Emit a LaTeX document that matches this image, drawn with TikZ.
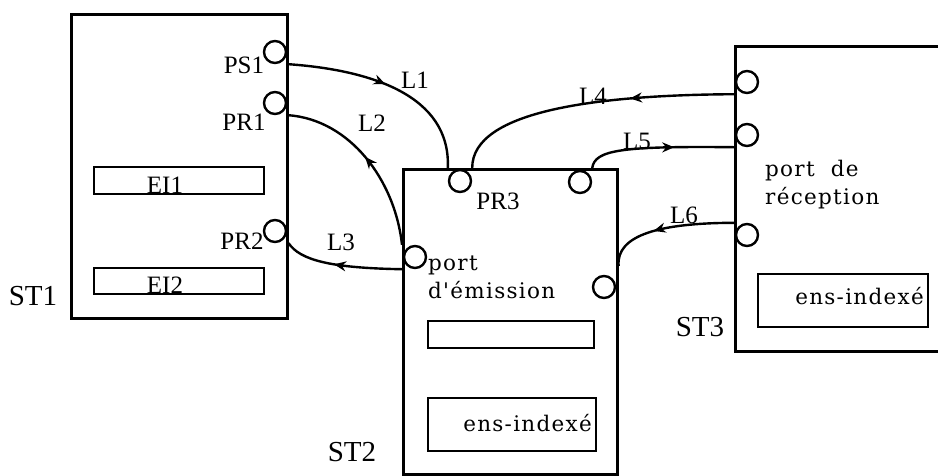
\documentclass[tikz,border=0pt]{standalone}
\usepackage{fontspec}
\setmainfont{Liberation Serif}
\newfontfamily\portfont[LetterSpace=6]{DejaVu Serif}
\usetikzlibrary{arrows.meta, decorations.markings, positioning, calc}

\begin{document}
\begin{tikzpicture}[
x=1pt, y=-1pt,
station/.style={rectangle, draw, line width=2.6pt, anchor=north west, inner sep=0pt},
ens/.style={rectangle, draw, line width=2.4pt, anchor=north west, inner sep=0pt},
port/.style={circle, draw, line width=2.4pt, minimum size=22pt, inner sep=0pt},
lab/.style={font=\fontsize{25}{25}\selectfont, inner sep=0pt},
stlab/.style={font=\fontsize{29}{29}\selectfont, inner sep=0pt},
txt/.style={font=\portfont\fontsize{21.5}{28}\selectfont, align=left, inner sep=0pt},
link/.style={line width=2.4pt, postaction={decorate}, decoration={markings, mark=at position #1 with {\arrow{Stealth[length=12pt,width=10pt]}}}}
]
\useasboundingbox (0,0) rectangle (938,475);
\node[station, minimum width=216pt, minimum height=304pt] (st1) at (70,13) {};
\node[station, minimum width=214pt, minimum height=305pt] (st2) at (402,168) {};
\node[station, minimum width=206pt, minimum height=305pt] (st3) at (734,45) {};
\node[stlab] (st1lab) at (33,296) {ST1};
\node[stlab] (st2lab) at (352,452) {ST2};
\node[stlab] (st3lab) at (700,327) {ST3};
\node[ens, minimum width=170pt, minimum height=27pt] (ei1) at (93,166) {};
\node[ens, minimum width=170pt, minimum height=26pt] (ei2) at (93,267) {};
\node[lab, anchor=south] (ei1lab) at (165,194) {EI1};
\node[lab, anchor=south] (ei2lab) at (165,294) {EI2};
\node[ens, minimum width=166pt, minimum height=27pt] (buf2) at (427,320) {};
\node[ens, minimum width=168pt, minimum height=53pt] (ens2) at (427,397) {};
\node[ens, minimum width=170pt, minimum height=53pt] (ens3) at (757,273) {};
\node[txt, anchor=east] (ens2lab) at (592,423) {ens-indexé};
\node[txt, anchor=east] (ens3lab) at (924,296) {ens-indexé};
\node[txt, anchor=north west] (emislab) at (428,256) {port\\d'émission};
\node[txt, anchor=north west] (reclab) at (765,160) {port~~de\\réception};
\node[port] (ps1) at (275,52) {};
\node[port] (pr1) at (275,103) {};
\node[port] (pr2) at (275,231) {};
\node[port] (pr3) at (460,181) {};
\node[port] (out5) at (580,182) {};
\node[port] (emis) at (415,257) {};
\node[port] (out6) at (604,287) {};
\node[port] (in4) at (747,82) {};
\node[port] (in5) at (747,135) {};
\node[port] (in6) at (747,235) {};
\node[lab] (ps1lab) at (244,65) {PS1};
\node[lab] (pr1lab) at (244,122) {PR1};
\node[lab] (pr2lab) at (242,241) {PR2};
\node[lab] (pr3lab) at (498,201) {PR3};
\node[lab] (l1) at (415,80) {L1};
\node[lab] (l2) at (372,123) {L2};
\node[lab] (l3) at (341,242) {L3};
\node[lab] (l4) at (593,96) {L4};
\node[lab] (l5) at (637,141) {L5};
\node[lab] (l6) at (684,215) {L6};
\draw[link=0.47] (ps1.south -| st1.east) .. controls (370,70) and (451,95) .. (pr3.west |- st2.north);
\draw[link=0.52] (emis.north -| st2.west) .. controls (395,180) and (350,120) .. (pr1.south -| st1.east);
\draw[link=0.57] (emis.south -| st2.west) .. controls (330,268) and (300,260) .. (pr2.south -| st1.east);
\draw[link=0.36] (in4.south -| st3.west) .. controls (600,95) and (472,110) .. (pr3.east |- st2.north);
\draw[link=0.6] (out5.east |- st2.north) .. controls (595,150) and (620,146) .. (in5.south -| st3.west);
\draw[link=0.6] (in6.north -| st3.west) .. controls (660,223) and (616,235) .. ($(out6.north -| st2.east)+(0,-9)$);
\end{tikzpicture}
\end{document}
